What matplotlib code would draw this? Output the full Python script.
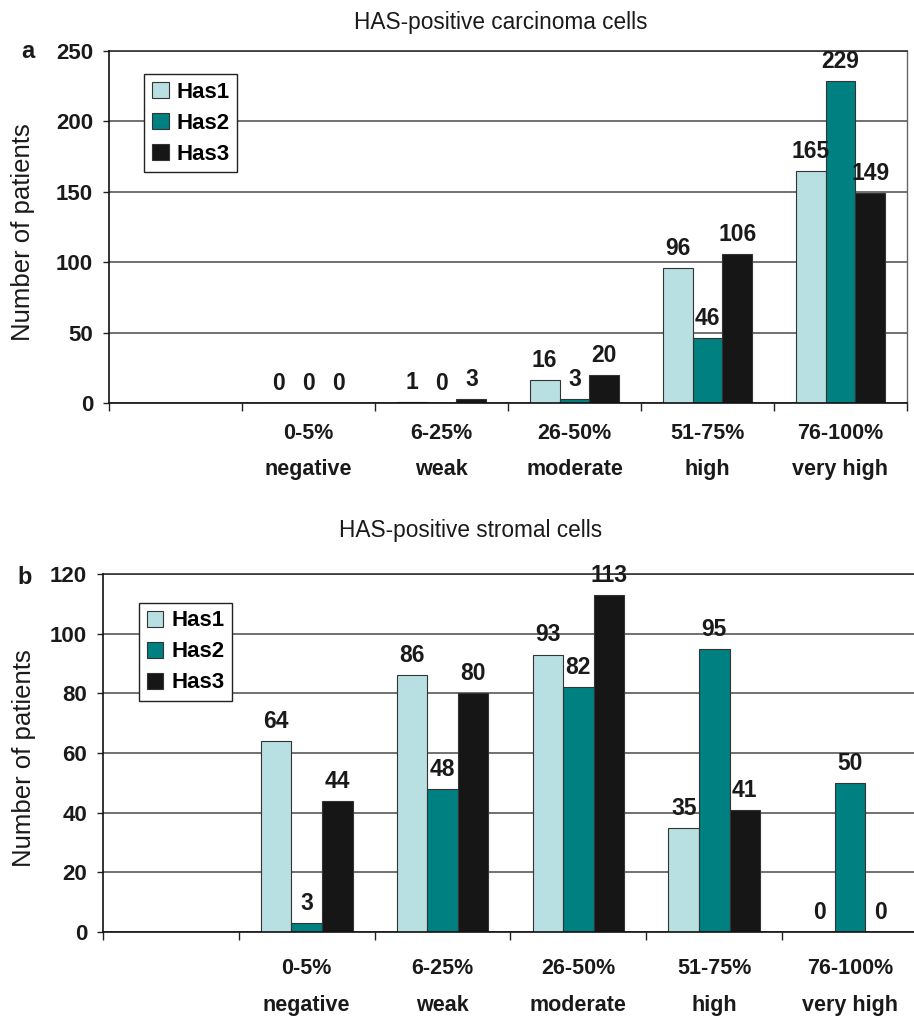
import matplotlib
matplotlib.use('Agg')
import matplotlib.pyplot as plt
from matplotlib.patches import Patch
import numpy as np

plt.rcParams['font.family'] = ['Liberation Sans', 'DejaVu Sans']

# first slot on the x axis is left empty, as in the original
ranges = ['', '0-5%', '6-25%', '26-50%', '51-75%', '76-100%']
levels = ['', 'negative', 'weak', 'moderate', 'high', 'very high']
series = ['Has1', 'Has2', 'Has3']
colors = ['#b8e0e2', '#008080', '#161616']

carcinoma_has1 = [0, 1, 16, 96, 165]
carcinoma_has2 = [0, 0, 3, 46, 229]
carcinoma_has3 = [0, 3, 20, 106, 149]

stromal_has1 = [64, 86, 93, 35, 0]
stromal_has2 = [3, 48, 82, 95, 50]
stromal_has3 = [44, 80, 113, 41, 0]

carcinoma_ticks = [0, 50, 100, 150, 200, 250]
stromal_ticks = [0, 20, 40, 60, 80, 100, 120]


def draw_panel(ax, values, yticks, lab_off, leg_top):
    n = len(ranges)
    xs = np.arange(1, n)
    w = 0.225
    for i, (vals, name, col) in enumerate(zip(values, series, colors)):
        pos = xs + (i - 1) * w
        ax.bar(pos, vals, width=w, color=col, edgecolor='#333333',
               linewidth=0.8, label=name, zorder=3)
        for x, v in zip(pos, vals):
            ax.annotate(str(v), (x, v), xytext=(0, 9.4), textcoords='offset points',
                        ha='center', va='baseline', fontsize=16.5, fontweight='bold',
                        color='#1a1a1a', zorder=4)

    ax.set_xlim(-0.5, n - 0.5)
    ax.set_ylim(0, yticks[-1])
    ax.set_xticks(np.arange(-0.5, n, 1.0))
    ax.set_xticklabels([])
    ax.tick_params(axis='x', length=6, width=1, color='#222222')
    ax.set_yticks(yticks)
    ax.set_yticklabels([str(t) for t in yticks], fontsize=16, fontweight='bold',
                       color='#1a1a1a')
    ax.tick_params(axis='y', length=4.5, width=1, color='#222222', pad=7)

    ax.yaxis.grid(True, color='#4a4a4a', linewidth=1.1, zorder=0)
    ax.set_axisbelow(True)
    for side in ['left', 'bottom']:
        ax.spines[side].set_color('#111111')
        ax.spines[side].set_linewidth(1.2)
        ax.spines[side].set_zorder(5)
    ax.spines['top'].set_color('#333333')
    ax.spines['top'].set_linewidth(1.2)
    ax.spines['right'].set_color('#666666')
    ax.spines['right'].set_linewidth(1.0)

    for x, r, l in zip(range(n), ranges, levels):
        ax.annotate(r, (x, 0), xycoords=('data', 'axes fraction'),
                    xytext=(0, -lab_off[0]), textcoords='offset points',
                    ha='center', va='center', fontsize=15.5, fontweight='bold',
                    color='#1a1a1a', annotation_clip=False)
        ax.annotate(l, (x, 0), xycoords=('data', 'axes fraction'),
                    xytext=(0, -lab_off[1]), textcoords='offset points',
                    ha='center', va='center', fontsize=15.5, fontweight='bold',
                    color='#1a1a1a', annotation_clip=False)

    handles = [Patch(facecolor=c, edgecolor='#333333', linewidth=0.8) for c in colors]
    leg = ax.legend(handles, series, loc='upper left', bbox_to_anchor=(0.044, leg_top),
                    prop={'size': 16, 'weight': 'bold'}, frameon=True, fancybox=False,
                    framealpha=1, edgecolor='#222222', handlelength=0.75,
                    handleheight=0.75, handletextpad=0.35, labelspacing=0.45,
                    borderpad=0.35, borderaxespad=0)
    leg.get_frame().set_linewidth(1.0)
    leg.set_zorder(6)


fig = plt.figure(figsize=(9.14, 10.17), dpi=100)
W, H = 914.0, 1017.0

ax1 = fig.add_axes([109 / W, 1 - 403 / H, (907 - 109) / W, (403 - 51) / H])
ax2 = fig.add_axes([103 / W, 1 - 932 / H, (918 - 103) / W, (932 - 574) / H])

draw_panel(ax1, [carcinoma_has1, carcinoma_has2, carcinoma_has3], carcinoma_ticks,
           (22, 48), 0.935)
draw_panel(ax2, [stromal_has1, stromal_has2, stromal_has3], stromal_ticks,
           (26.5, 53), 0.92)

fig.text(501 / W, 1 - 22 / H, 'HAS-positive carcinoma cells', ha='center', va='center',
         fontsize=16.3, color='#1a1a1a')
fig.text(471 / W, 1 - 531 / H, 'HAS-positive stromal cells', ha='center', va='center',
         fontsize=16.3, color='#1a1a1a')

fig.text(23 / W, 1 - 232 / H, 'Number of patients', rotation=90, ha='center',
         va='center', fontsize=18.5, color='#1a1a1a')
fig.text(24 / W, 1 - 758 / H, 'Number of patients', rotation=90, ha='center',
         va='center', fontsize=18.5, color='#1a1a1a')

fig.text(28 / W, 1 - 52 / H, 'a', ha='center', va='center', fontsize=17,
         fontweight='bold', color='#1a1a1a')
fig.text(25 / W, 1 - 578 / H, 'b', ha='center', va='center', fontsize=17,
         fontweight='bold', color='#1a1a1a')

fig.savefig('out.png', dpi=100)
